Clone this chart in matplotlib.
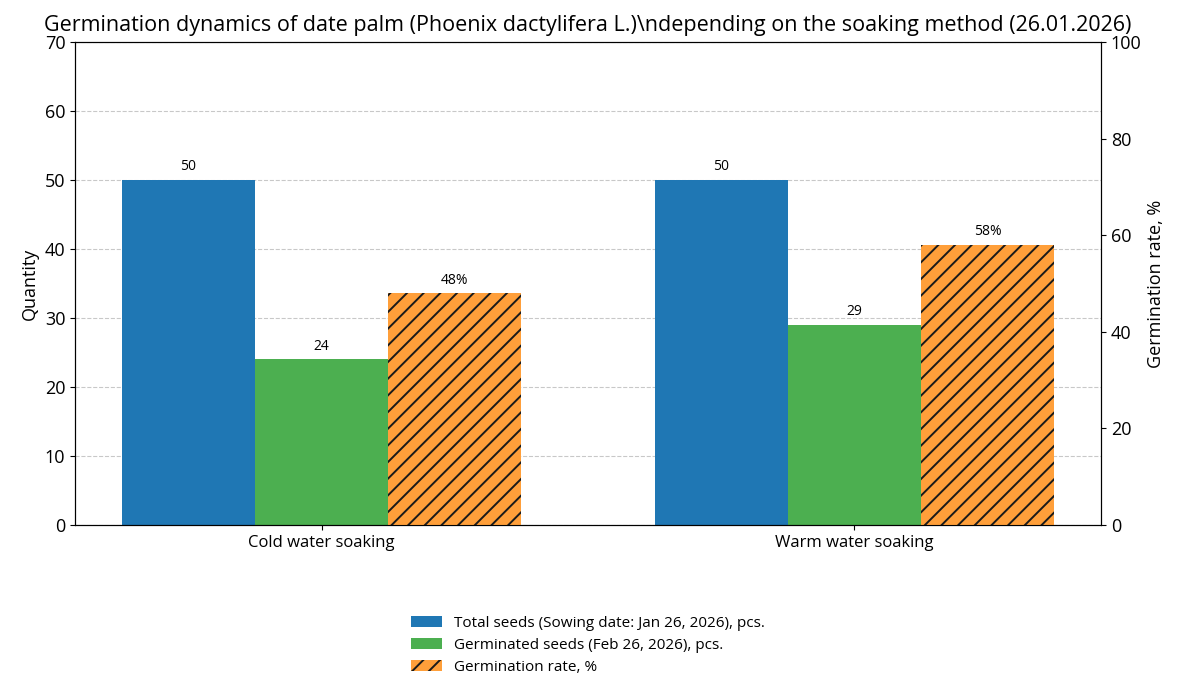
import numpy as np
import matplotlib
matplotlib.use("Agg")
import matplotlib.pyplot as plt

plt.rcParams['font.family'] = ['Open Sans', 'DejaVu Sans']
plt.rcParams['hatch.linewidth'] = 1.4

methods = ['Cold water soaking', 'Warm water soaking']
total_seeds = [50, 50]
germinated = [24, 29]
rate_pct = [48, 58]

x = np.arange(len(methods))
w = 0.25

fig = plt.figure(figsize=(11.8, 6.74), dpi=100)
ax = fig.add_axes([0.0636, 0.221, 0.8694, 0.7166])
ax2 = ax.twinx()

b1 = ax.bar(x - w, total_seeds, w, color='#1f77b4',
            label='Total seeds (Sowing date: Jan 26, 2026), pcs.')
b2 = ax.bar(x, germinated, w, color='#4caf50',
            label='Germinated seeds (Feb 26, 2026), pcs.')
b3 = ax2.bar(x + w, rate_pct, w, color='#ff9f3a', edgecolor='#1a1a1a',
             linewidth=0, hatch='//', label='Germination rate, %')

ax.bar_label(b1, padding=4, fontsize=10)
ax.bar_label(b2, padding=4, fontsize=10)
ax2.bar_label(b3, labels=[f'{v}%' for v in rate_pct], padding=4, fontsize=10)

ax.set_ylim(0, 70)
ax2.set_ylim(0, 100)
ax.set_xticks(x)
ax.set_xticklabels(methods, fontsize=12)
ax.tick_params(axis='y', labelsize=13)
ax2.tick_params(axis='y', labelsize=13)
ax.set_ylabel('Quantity', fontsize=13)
ax2.set_ylabel('Germination rate, %', fontsize=13)
ax.yaxis.grid(True, linestyle='--', color='#bbbbbb', alpha=0.8)
ax.set_axisbelow(True)

ax.set_title('Germination dynamics of date palm (Phoenix dactylifera L.)\\ndepending on the soaking method (26.01.2026)',
             fontsize=15.5, pad=8)

h1, l1 = ax.get_legend_handles_labels()
h2, l2 = ax2.get_legend_handles_labels()
ax.legend(h1 + h2, l1 + l2, loc='upper center', bbox_to_anchor=(0.5, -0.16),
          frameon=False, fontsize=11, labelspacing=0.45)

fig.savefig('out.png', dpi=100)
